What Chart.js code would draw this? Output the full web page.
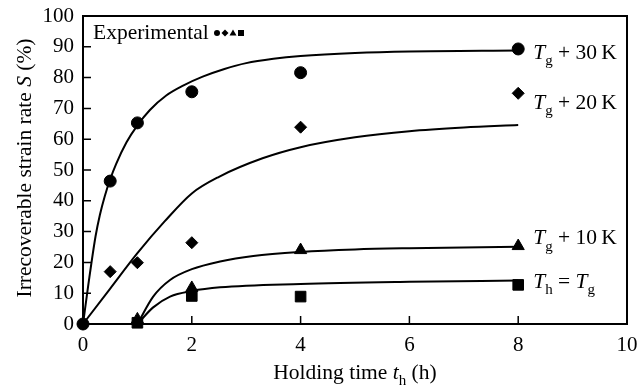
<!DOCTYPE html>
<html>
<head>
<meta charset="utf-8">
<script src="https://cdn.jsdelivr.net/npm/chart.js@4.4.0/dist/chart.umd.min.js"></script>
<style>
  html, body { margin: 0; padding: 0; background: #fff; }
  #wrap { width: 638px; height: 387px; position: relative; }
</style>
</head>
<body>
<div id="wrap"><canvas id="grafico"></canvas></div>
<script>
const FUENTE = '"Liberation Serif", "Times New Roman", serif';
const TAM = 21.5;
const TAM_TICKS = 21;

// Puntos experimentales (tiempo de mantenimiento en h, S en %)
const t30 = [0, 0.5, 1, 2, 4, 8];
const s30 = [0, 46.4, 65.3, 75.4, 81.6, 89.3];
const t20 = [0, 0.5, 1, 2, 4, 8];
const s20 = [0, 17.0, 19.9, 26.4, 63.9, 74.9];
const t10 = [1, 2, 4, 8];
const s10 = [1.5, 11.7, 24.0, 25.3];
const tTg = [1, 2, 4, 8];
const sTg = [0.4, 9.1, 8.9, 12.7];

// Curvas de ajuste
const ajT30 = [0, 0.1, 0.23, 0.31, 0.4, 0.5, 0.61, 0.8, 1, 1.23, 1.53, 1.84, 2.2, 2.6, 3, 3.5, 4, 5, 6, 8];
const ajS30 = [0, 13, 28.4, 35.4, 41.5, 47, 52, 59, 64.5, 69.5, 74.2, 77.4, 80.3, 82.8, 84.7, 86.1, 87.0, 88.0, 88.5, 88.8];
const ajT20 = [0, 0.5, 1, 1.5, 2, 2.5, 3.3, 4, 5, 6, 7, 8];
const ajS20 = [0, 11.5, 23, 33.3, 42.4, 47.8, 53.8, 57.4, 60.6, 62.6, 63.8, 64.6];
const ajT10 = [1, 1.29, 1.6, 2, 2.52, 3.13, 4, 5, 6, 8];
const ajS10 = [0, 8.9, 14.3, 17.8, 20.3, 22.1, 23.4, 24.2, 24.6, 25.1];
const ajTTg = [1, 1.29, 1.6, 2, 2.52, 4, 6, 8];
const ajSTg = [0, 5.4, 8.9, 10.7, 11.9, 13.0, 13.7, 14.1];

// Marcas de los ejes
const ticksX = [0, 2, 4, 6, 8, 10];
const ticksY = [0, 10, 20, 30, 40, 50, 60, 70, 80, 90, 100];

const puntos = (xs, ys) => xs.map((x, i) => ({ x, y: ys[i] }));

function curva(xs, ys) {
  return {
    data: puntos(xs, ys),
    showLine: true,
    pointRadius: 0,
    borderColor: '#000',
    borderWidth: 2,
    cubicInterpolationMode: 'monotone',
    clip: false
  };
}

function serie(xs, ys, estilo, radio) {
  return {
    data: puntos(xs, ys),
    showLine: false,
    pointStyle: estilo,
    pointRadius: radio,
    backgroundColor: '#000',
    borderColor: '#000',
    borderWidth: 1,
    clip: false
  };
}

function fuentePara(p, tam) {
  return (p.it ? 'italic ' : '') + (p.sub ? Math.round(tam * 0.68) : tam) + 'px ' + FUENTE;
}

// Texto con cursivas y subíndices
function textoRico(ctx, partes, x, y, tam, alinear) {
  let total = 0;
  partes.forEach(p => { ctx.font = fuentePara(p, tam); total += ctx.measureText(p.t).width; });
  let cx = alinear === 'center' ? x - total / 2 : x;
  ctx.textAlign = 'left';
  ctx.textBaseline = 'alphabetic';
  partes.forEach(p => {
    ctx.font = fuentePara(p, tam);
    ctx.fillText(p.t, cx, y + (p.sub ? tam * 0.3 : 0));
    cx += ctx.measureText(p.t).width;
  });
}

const etiquetas = [
  { s: 88.4, partes: [{ t: 'T', it: true }, { t: 'g', sub: true }, { t: ' + 30\u2009K' }] },
  { s: 72.1, partes: [{ t: 'T', it: true }, { t: 'g', sub: true }, { t: ' + 20\u2009K' }] },
  { s: 28.2, partes: [{ t: 'T', it: true }, { t: 'g', sub: true }, { t: ' + 10\u2009K' }] },
  { s: 14.0, partes: [{ t: 'T', it: true }, { t: 'h', sub: true }, { t: ' = ' }, { t: 'T', it: true }, { t: 'g', sub: true }] }
];

function dibujarMarco(chart) {
  const { ctx, chartArea: a, scales: { x, y } } = chart;
  ctx.save();
  ctx.strokeStyle = '#000';
  ctx.lineWidth = 2;
  ctx.beginPath();
  ctx.rect(a.left, a.top, a.right - a.left, a.bottom - a.top);
  ctx.stroke();
  // marcas hacia adentro
  ctx.lineWidth = 1.5;
  ctx.beginPath();
  ticksY.slice(1, -1).forEach(v => {
    const py = y.getPixelForValue(v);
    ctx.moveTo(a.left, py); ctx.lineTo(a.left + 8, py);
  });
  ticksX.slice(1, -1).forEach(v => {
    const px = x.getPixelForValue(v);
    ctx.moveTo(px, a.bottom); ctx.lineTo(px, a.bottom - 8);
  });
  ctx.stroke();
  ctx.restore();
}

const marcoPlugin = {
  id: 'marco',
  afterDraw(chart) {
    dibujarMarco(chart);
    const { ctx, chartArea: a, scales: { x, y } } = chart;
    ctx.save();
    ctx.fillStyle = '#000';

    // leyenda
    ctx.font = TAM + 'px ' + FUENTE;
    ctx.textAlign = 'left';
    ctx.textBaseline = 'alphabetic';
    ctx.fillText('Experimental', a.left + 10, a.top + 23);
    const ly = a.top + 17;
    const lx = a.left + 134;
    ctx.beginPath(); ctx.arc(lx, ly, 3, 0, Math.PI * 2); ctx.fill();
    ctx.beginPath(); ctx.moveTo(lx + 8, ly - 3.5); ctx.lineTo(lx + 11.5, ly); ctx.lineTo(lx + 8, ly + 3.5); ctx.lineTo(lx + 4.5, ly); ctx.closePath(); ctx.fill();
    ctx.beginPath(); ctx.moveTo(lx + 16, ly - 3.5); ctx.lineTo(lx + 19.5, ly + 2.5); ctx.lineTo(lx + 12.5, ly + 2.5); ctx.closePath(); ctx.fill();
    ctx.fillRect(lx + 21, ly - 3, 6, 6);

    // etiquetas de las curvas
    const ex = x.getPixelForValue(8) + 15;
    etiquetas.forEach(e => {
      textoRico(ctx, e.partes, ex, y.getPixelForValue(e.s) + 7, TAM);
    });

    // título eje X
    textoRico(ctx, [{ t: 'Holding time ' }, { t: 't', it: true }, { t: 'h', sub: true }, { t: ' (h)' }],
      (a.left + a.right) / 2, 379, TAM, 'center');

    // título eje Y
    ctx.translate(31, 168);
    ctx.rotate(-Math.PI / 2);
    textoRico(ctx, [{ t: 'Irrecoverable strain rate ' }, { t: 'S', it: true }, { t: ' (%)' }], 0, 0, TAM, 'center');
    ctx.restore();
  }
};

new Chart(document.getElementById('grafico'), {
  type: 'scatter',
  data: {
    datasets: [
      curva(ajT30, ajS30),
      curva(ajT20, ajS20),
      curva(ajT10, ajS10),
      curva(ajTTg, ajSTg),
      serie(t30, s30, 'circle', 6),
      serie(t20, s20, 'rectRot', 6),
      serie(t10, s10, 'triangle', 7),
      serie(tTg, sTg, 'rect', 7.5)
    ]
  },
  options: {
    responsive: true,
    maintainAspectRatio: false,
    animation: false,
    layout: { padding: { left: 0, top: 16, right: 11, bottom: 0 } },
    plugins: {
      legend: { display: false },
      tooltip: { enabled: false }
    },
    scales: {
      x: {
        type: 'linear',
        min: 0,
        max: 10,
        afterFit: s => { s.height = 63; s.paddingLeft = 0; s.paddingRight = 0; },
        afterBuildTicks: s => { s.ticks = ticksX.map(v => ({ value: v })); },
        grid: { display: false, drawTicks: false },
        border: { display: false },
        ticks: { color: '#000', padding: 9, font: { family: FUENTE, size: TAM_TICKS } }
      },
      y: {
        type: 'linear',
        min: 0,
        max: 100,
        afterFit: s => { s.width = 83; s.paddingTop = 0; s.paddingBottom = 0; },
        afterBuildTicks: s => { s.ticks = ticksY.map(v => ({ value: v })); },
        grid: { display: false, drawTicks: false },
        border: { display: false },
        ticks: { color: '#000', padding: 9, font: { family: FUENTE, size: TAM_TICKS } }
      }
    }
  },
  plugins: [marcoPlugin]
});
</script>
</body>
</html>
